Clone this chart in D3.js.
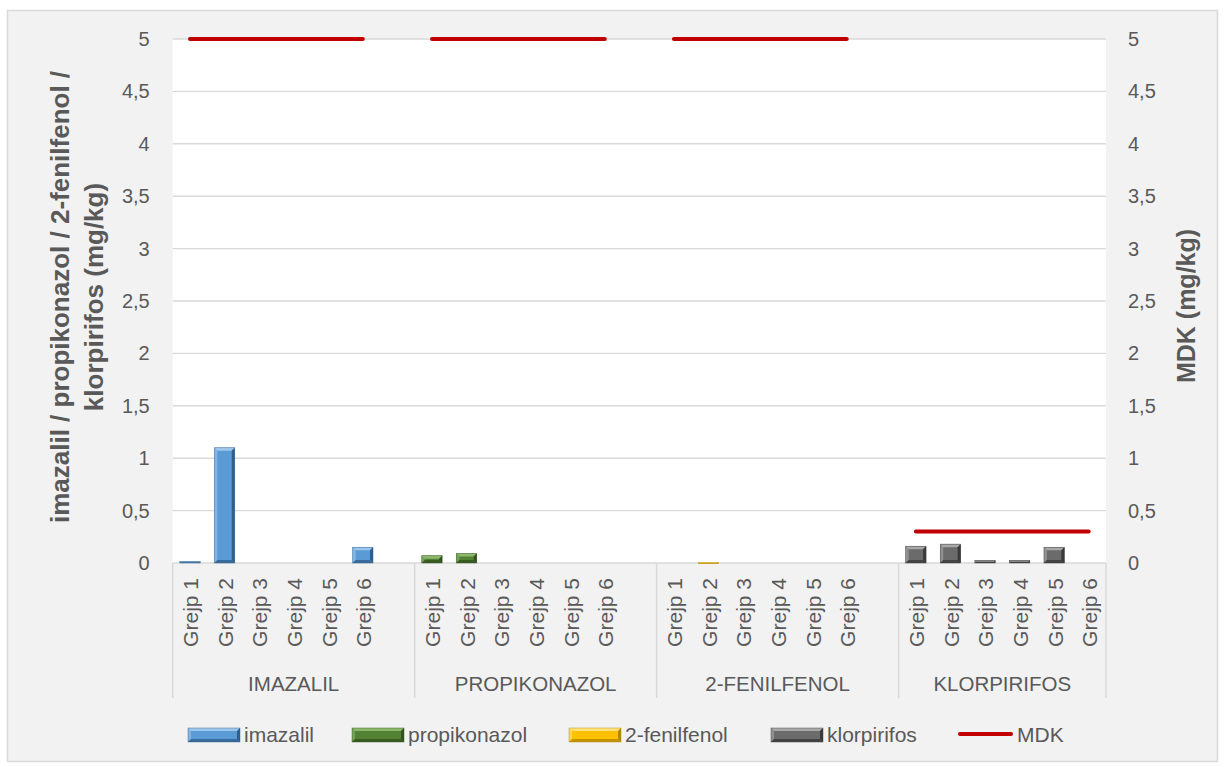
<!DOCTYPE html>
<html><head><meta charset="utf-8">
<script src="https://cdn.jsdelivr.net/npm/d3@7"></script>
<style>body{margin:0;background:#fff}text{font-family:"Liberation Sans",Arial,sans-serif;fill:#595959}</style>
</head><body><svg id="c" width="1225" height="767"></svg>
<script>
// ---- data ----
const groups = ["IMAZALIL", "PROPIKONAZOL", "2-FENILFENOL", "KLORPIRIFOS"];
const samples = ["Grejp 1", "Grejp 2", "Grejp 3", "Grejp 4", "Grejp 5", "Grejp 6"];
const seriesNames = ["imazalil", "propikonazol", "2-fenilfenol", "klorpirifos"];
const imazalil = [0.015, 1.1, 0, 0, 0, 0.15];
const propikonazol = [0.07, 0.09, 0, 0, 0, 0];
const fenilfenol = [0, 0.005, 0, 0, 0, 0];
const klorpirifos = [0.16, 0.18, 0.025, 0.025, 0.15, 0];
const mdk = [5, 5, 5, 0.3];
const yTicks = [0, 0.5, 1, 1.5, 2, 2.5, 3, 3.5, 4, 4.5, 5];

const seriesValues = [imazalil, propikonazol, fenilfenol, klorpirifos];
const colors = [
  {base: "#5b9bd5", light: "#9cc6ec", dark: "#2f5f8c"},
  {base: "#548235", light: "#8cb86c", dark: "#33521f"},
  {base: "#ffc000", light: "#ffe27a", dark: "#b38600"},
  {base: "#6b6b6b", light: "#a8a8a8", dark: "#3a3a3a"}
];

// flattened category keys with a blank slot between groups
const keys = [];
groups.forEach((g, gi) => {
  samples.forEach((s, si) => keys.push(g + "|" + si));
  if (gi < groups.length - 1) keys.push(g + "|blank");
});

const svg = d3.select("#c");
const L = 172.7, R = 1106, T = 39, B = 563;
const x = d3.scaleBand().domain(keys).range([L, R]).paddingInner(0).paddingOuter(0);
const y = d3.scaleLinear().domain([0, 5]).range([B, T]);
const fmt = v => String(v).replace(".", ",");

// chart background
svg.append("rect").attr("x", 7.5).attr("y", 10.5).attr("width", 1210).attr("height", 751)
  .attr("fill", "#f2f2f2").attr("stroke", "#d9d9d9").attr("stroke-width", 1.5);
svg.append("rect").attr("x", L).attr("y", T).attr("width", R - L).attr("height", B - T).attr("fill", "#fff");

// gridlines
svg.append("g").selectAll("line").data(yTicks.filter(t => t > 0)).join("line")
  .attr("x1", L).attr("x2", R).attr("y1", d => y(d)).attr("y2", d => y(d))
  .attr("stroke", "#d9d9d9").attr("stroke-width", 1.4);

// axes (labels)
const ax = svg.append("g").attr("transform", `translate(${L - 23},0)`)
  .call(d3.axisLeft(y).tickValues(yTicks).tickFormat(fmt).tickSize(0).tickPadding(0));
const axr = svg.append("g").attr("transform", `translate(${R + 22},0)`)
  .call(d3.axisRight(y).tickValues(yTicks).tickFormat(fmt).tickSize(0).tickPadding(0));
[ax, axr].forEach(a => {
  a.select(".domain").remove();
  a.selectAll("text").style("font-size", "20px").attr("fill", "#595959")
    .style("font-family", '"Liberation Sans",Arial,sans-serif');
});

// category axis structure
const boundaries = [L];
groups.forEach((g, gi) => {
  if (gi < groups.length - 1) boundaries.push(x(g + "|blank") + x.bandwidth());
});
boundaries.push(R);
svg.append("line").attr("x1", L).attr("x2", R).attr("y1", B).attr("y2", B)
  .attr("stroke", "#d9d9d9").attr("stroke-width", 1.5);
svg.append("g").selectAll("line").data(boundaries).join("line")
  .attr("x1", d => d).attr("x2", d => d).attr("y1", B).attr("y2", 698)
  .attr("stroke", "#d9d9d9").attr("stroke-width", 1.5);

// sample labels
const sampleKeys = keys.filter(k => !k.endsWith("blank"));
svg.append("g").selectAll("text").data(sampleKeys).join("text")
  .attr("transform", d => `translate(${x(d) + x.bandwidth() / 2 + 1},${B + 15}) rotate(-90)`)
  .attr("text-anchor", "end").attr("dy", "0.35em").style("font-size", "21px")
  .text(d => samples[+d.split("|")[1]]);

// group labels
svg.append("g").selectAll("text").data(groups).join("text")
  .attr("x", (d, i) => (boundaries[i] + boundaries[i + 1]) / 2).attr("y", 691)
  .attr("text-anchor", "middle").style("font-size", "20.5px").text(d => d);

// bevelled bar
function bevelBar(g, bx, by, w, h, c) {
  g.append("rect").attr("x", bx).attr("y", by).attr("width", w).attr("height", h).attr("fill", c.base);
  const b = Math.min(3, h / 2, w / 2);
  if (b > 0.4) {
    const poly = (pts, f, op) => g.append("polygon").attr("points", pts.map(p => p.join(",")).join(" "))
      .attr("fill", f).attr("opacity", op);
    poly([[bx, by], [bx + w, by], [bx + w - b, by + b], [bx + b, by + b]], c.light, 1);
    poly([[bx, by], [bx + b, by + b], [bx + b, by + h - b], [bx, by + h]], c.light, 0.6);
    poly([[bx + w, by], [bx + w, by + h], [bx + w - b, by + h - b], [bx + w - b, by + b]], c.dark, 1);
    poly([[bx, by + h], [bx + w, by + h], [bx + w - b, by + h - b], [bx + b, by + h - b]], c.dark, 0.8);
  }
  g.append("rect").attr("x", bx).attr("y", by).attr("width", w).attr("height", h)
    .attr("fill", "none").attr("stroke", c.dark).attr("stroke-width", 0.6).attr("opacity", 0.7);
}

// bars
const barW = x.bandwidth() * 0.59;
const barsG = svg.append("g");
seriesValues.forEach((vals, si) => {
  vals.forEach((v, i) => {
    if (v <= 0) return;
    const k = groups[si] + "|" + i;
    const cx = x(k) + x.bandwidth() / 2;
    const top = y(v);
    bevelBar(barsG, cx - barW / 2, top, barW, Math.max(B - top, 1), colors[si]);
  });
});

// MDK line segments
const mdkLine = d3.line().x(d => d.x).y(d => y(d.v));
groups.forEach((g, gi) => {
  const pts = samples.map((s, i) => ({x: x(g + "|" + i) + x.bandwidth() / 2, v: mdk[gi]}));
  svg.append("path").attr("d", mdkLine(pts)).attr("fill", "none")
    .attr("stroke", "#c00000").attr("stroke-width", 4).attr("stroke-linecap", "round");
});

// axis titles
svg.append("text").attr("transform", "translate(69,297) rotate(-90)").attr("text-anchor", "middle")
  .style("font-size", "26px").style("font-weight", "bold")
  .text("imazalil / propikonazol / 2-fenilfenol /");
svg.append("text").attr("transform", "translate(103,297) rotate(-90)").attr("text-anchor", "middle")
  .style("font-size", "26px").style("font-weight", "bold")
  .text("klorpirifos (mg/kg)");
svg.append("text").attr("transform", "translate(1195,306) rotate(-90)").attr("text-anchor", "middle")
  .style("font-size", "25px").style("font-weight", "bold")
  .text("MDK (mg/kg)");

// legend
const legX = [188, 352, 569, 771];
const lg = svg.append("g");
seriesNames.forEach((n, i) => {
  bevelBar(lg, legX[i], 728, 52, 14, colors[i]);
  lg.append("text").attr("x", legX[i] + 56).attr("y", 735).attr("dy", "0.35em")
    .style("font-size", "21px").text(n);
});
lg.append("line").attr("x1", 960).attr("x2", 1011).attr("y1", 734).attr("y2", 734)
  .attr("stroke", "#c00000").attr("stroke-width", 4).attr("stroke-linecap", "round");
lg.append("text").attr("x", 1017).attr("y", 735).attr("dy", "0.35em").style("font-size", "21px").text("MDK");
</script></body></html>
